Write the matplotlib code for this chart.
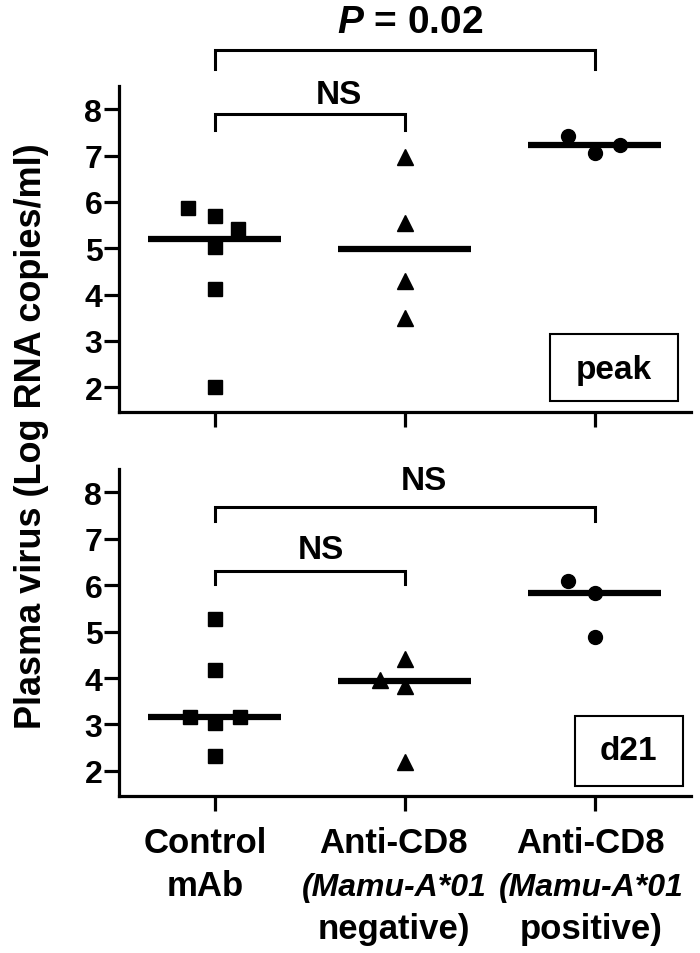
import matplotlib
matplotlib.use("Agg")
import matplotlib.pyplot as plt
from matplotlib.patches import Rectangle

plt.rcParams['font.family'] = ['Liberation Sans', 'DejaVu Sans']
plt.rcParams['font.weight'] = 'bold'
plt.rcParams['mathtext.fontset'] = 'custom'
plt.rcParams['mathtext.it'] = 'Liberation Sans:italic:bold'
plt.rcParams['mathtext.rm'] = 'Liberation Sans:bold'

# ---- data ----
categories = ["Control mAb", "Anti-CD8 (Mamu-A*01 negative)", "Anti-CD8 (Mamu-A*01 positive)"]
yticks = [2, 3, 4, 5, 6, 7, 8]

peak_ctrl_x = [-0.14, 0.0, 0.12, 0.0, 0.0, 0.0]
peak_ctrl_y = [5.87, 5.69, 5.41, 5.02, 4.12, 2.00]
peak_neg_x = [1.0, 1.0, 1.0, 1.0]
peak_neg_y = [6.97, 5.54, 4.30, 3.49]
peak_pos_x = [1.86, 2.0, 2.13]
peak_pos_y = [7.42, 7.06, 7.24]
peak_medians = [5.19, 4.98, 7.24]

d21_ctrl_x = [0.0, 0.0, -0.13, 0.0, 0.13, 0.0]
d21_ctrl_y = [5.28, 4.17, 3.17, 3.04, 3.17, 2.32]
d21_neg_x = [1.0, 0.87, 1.0, 1.0]
d21_neg_y = [4.41, 3.95, 3.82, 2.20]
d21_pos_x = [1.86, 2.0, 2.0]
d21_pos_y = [6.09, 5.84, 4.89]
d21_medians = [3.16, 3.93, 5.84]

fig = plt.figure(figsize=(7.0, 9.54), dpi=100)
ax1 = fig.add_axes([0.170, 0.567, 0.817, 0.342])
ax2 = fig.add_axes([0.170, 0.1646, 0.817, 0.343])

LW = 2.3
for ax in (ax1, ax2):
    ax.set_xlim(-0.505, 2.505)
    ax.set_ylim(1.46, 8.51)
    ax.spines['top'].set_visible(False)
    ax.spines['right'].set_visible(False)
    ax.spines['left'].set_linewidth(LW)
    ax.spines['bottom'].set_linewidth(LW)
    ax.set_yticks(yticks)
    ax.set_xticks([0, 1, 2])
    ax.set_xticklabels([])
    ax.tick_params(axis='both', direction='out', length=11, width=LW, labelsize=23, pad=1)
    for lab in ax.get_yticklabels():
        lab.set_fontweight('bold')

def draw_panel(ax, cx, cy, nx, ny, px, py, meds):
    ax.plot(cx, cy, 's', color='black', markersize=10, linestyle='none')
    ax.plot(nx, ny, '^', color='black', markersize=11, linestyle='none')
    ax.plot(px, py, 'o', color='black', markersize=10, linestyle='none')
    for i, m in enumerate(meds):
        ax.plot([i - 0.35, i + 0.35], [m, m], color='black', lw=4.5, solid_capstyle='butt')

def bracket(ax, x0, x1, ytop, ybot, label, xtext, ytext, fs=24):
    ax.plot([x0, x0, x1, x1], [ybot, ytop, ytop, ybot], color='black', lw=2.2,
            clip_on=False, solid_joinstyle='miter')
    ax.text(xtext, ytext, label, ha='center', va='center', fontsize=fs,
            fontweight='bold', clip_on=False)

draw_panel(ax1, peak_ctrl_x, peak_ctrl_y, peak_neg_x, peak_neg_y, peak_pos_x, peak_pos_y, peak_medians)
draw_panel(ax2, d21_ctrl_x, d21_ctrl_y, d21_neg_x, d21_neg_y, d21_pos_x, d21_pos_y, d21_medians)

bracket(ax1, 0, 1, 7.91, 7.55, "NS", 0.65, 8.33)
bracket(ax1, 0, 2, 9.29, 8.88, "$P$ = 0.02", 1.03, 9.89, fs=28)
bracket(ax2, 0, 2, 7.68, 7.38, "NS", 1.1, 8.25)
bracket(ax2, 0, 1, 6.31, 6.02, "NS", 0.56, 6.78)

# panel boxes
ax1.add_patch(Rectangle((0.753, 0.034), 0.224, 0.206, transform=ax1.transAxes,
                        fill=False, ec='black', lw=1.5, clip_on=False))
ax1.text(0.865, 0.13, "peak", transform=ax1.transAxes, ha='center', va='center',
         fontsize=24, fontweight='bold')
ax2.add_patch(Rectangle((0.797, 0.031), 0.189, 0.214, transform=ax2.transAxes,
                        fill=False, ec='black', lw=1.5, clip_on=False))
ax2.text(0.890, 0.138, "d21", transform=ax2.transAxes, ha='center', va='center',
         fontsize=24, fontweight='bold')

# x category labels
rows = [
    ["Control", "Anti-CD8", "Anti-CD8"],
    ["mAb", "(Mamu-A*01", "(Mamu-A*01"],
    ["", "negative)", "positive)"],
]
styles = [["normal", "normal", "normal"], ["normal", "italic", "italic"], ["normal", "normal", "normal"]]
sizes = [[25, 25, 25], [25, 23, 23], [25, 25, 25]]
offsets = [-40.3, -71.3, -102.2]
xshift = [-7, -8, -3]
for r, row in enumerate(rows):
    for i, txt in enumerate(row):
        if txt:
            ax2.annotate(txt, xy=(i, 0), xycoords=('data', 'axes fraction'),
                         xytext=(xshift[i], offsets[r]), textcoords='offset points',
                         ha='center', va='baseline', fontsize=sizes[r][i], fontweight='bold',
                         fontstyle=styles[r][i], annotation_clip=False)

fig.text(0.045, 0.5425, "Plasma virus (Log RNA copies/ml)", rotation=90,
         ha='center', va='center', fontsize=26, fontweight='bold')

fig.savefig("out.png", dpi=100)
